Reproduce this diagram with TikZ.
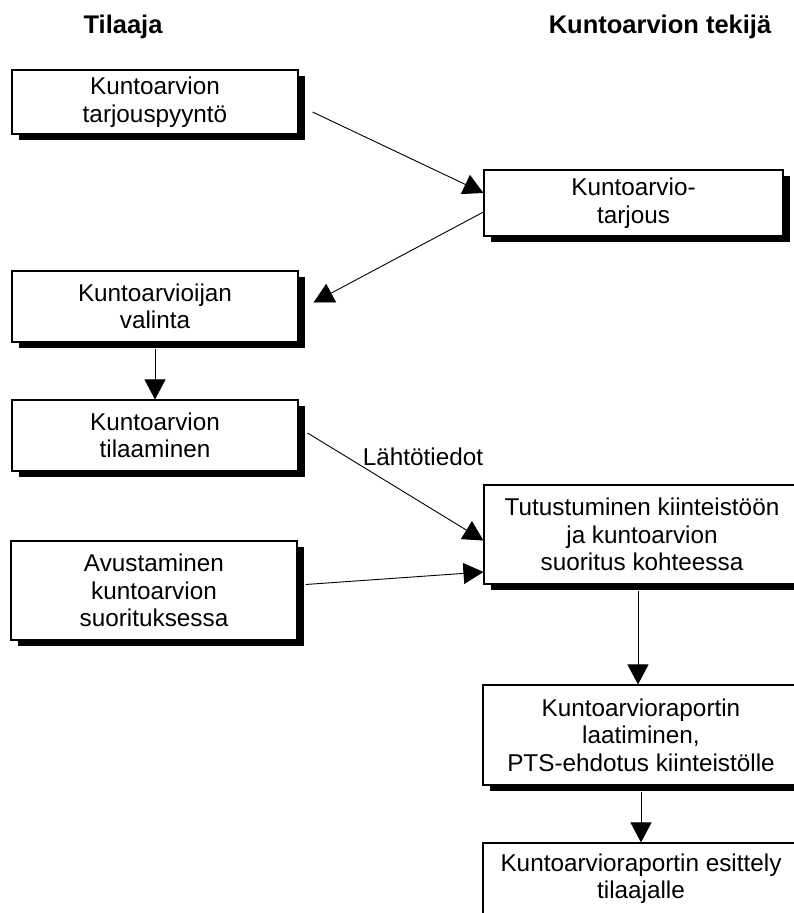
\documentclass[tikz,border=0pt]{standalone}
\usepackage{fontspec}
\setmainfont{Liberation Sans}
\usetikzlibrary{arrows.meta}
\usetikzlibrary{shadows}
\usetikzlibrary{positioning}

\begin{document}
\begin{tikzpicture}[x=1pt,y=-1pt,
  box/.style={draw,fill=white,line width=1.1pt,align=center,inner sep=2pt,
    minimum width=286pt,font=\fontsize{24.3}{27.5}\selectfont,
    drop shadow={shadow xshift=7pt,shadow yshift=-6pt,fill=black,opacity=1}},
  head/.style={font=\fontsize{25.5}{28}\selectfont\bfseries},
  lbl/.style={font=\fontsize{24.3}{27.5}\selectfont},
  ptr/.style={-{Triangle[length=20pt,width=21pt]},line width=0.9pt}
]
\useasboundingbox (0,0) rectangle (794,913);
% Headers
\node[head] (tilaaja) at (123,27) {Tilaaja};
\node[head] (tekija) at (660,27) {Kuntoarvion tekijä};
% Tilaaja side
\node[box,minimum height=64pt] (pyynto) at (155,102) {Kuntoarvion\\tarjouspyyntö};
\node[box,minimum height=71pt] (valinta) at (155,306.5) {Kuntoarvioijan\\valinta};
\node[box,minimum height=71pt] (tilaus) at (155,435.5) {Kuntoarvion\\tilaaminen};
\node[box,minimum height=99pt] (avustus) at (154,590.5) {Avustaminen\\kuntoarvion\\suorituksessa};
% Tekija side
\node[box,minimum width=299pt,minimum height=66pt] (tarjous) at (633.5,203) {Kuntoarvio-\\tarjous};
\node[box,minimum width=316pt,minimum height=99pt] (tutustus) at (642,534.5) {Tutustuminen kiinteistöön\\ja kuntoarvion\\suoritus kohteessa};
\node[box,minimum width=316pt,minimum height=100pt] (raportti) at (641,735) {Kuntoarvioraportin\\laatiminen,\\PTS-ehdotus kiinteistölle};
\node[box,minimum width=316pt,minimum height=71pt] (esittely) at (641,878.5) {Kuntoarvioraportin esittely\\tilaajalle};
% Label
\node[lbl] (lahto) at (423,457) {Lähtötiedot};

\draw[ptr] ([xshift=14pt,yshift=-10pt]pyynto.east) -- ([yshift=10pt]tarjous.west);
\draw[ptr] ([yshift=-9pt]tarjous.west) -- ([xshift=15pt,yshift=4pt]valinta.east);
\draw[ptr] ([yshift=-6pt]valinta.south) -- (tilaus.north);
\draw[ptr] ([xshift=9pt,yshift=2.5pt]tilaus.east) -- ([yshift=-6pt]tutustus.west);
\draw[ptr] ([xshift=8pt,yshift=6pt]avustus.east) -- ([yshift=-37.5pt]tutustus.west);
\draw[ptr] ([xshift=-4pt,yshift=-6pt]tutustus.south) -- ([xshift=-3pt]raportti.north);
\draw[ptr] ([yshift=-6pt]raportti.south) -- (esittely.north);
\end{tikzpicture}
\end{document}
